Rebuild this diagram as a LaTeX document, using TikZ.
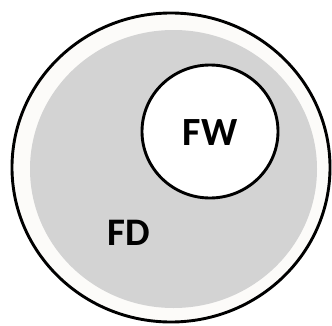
\documentclass[tikz,border=0pt]{standalone}
\usepackage{fontspec}
\newfontfamily\calfont{Carlito}
\usepackage{xcolor}
\definecolor{fdgray}{RGB}{211,211,211}
\definecolor{ringwhite}{RGB}{252,251,249}
\begin{document}
\begin{tikzpicture}[x=1pt,y=1pt]
	\useasboundingbox (0,0) rectangle (332,325);
	\draw[line width=2.9pt, fill=ringwhite] (171,157.5) ellipse (159 and 154.5);
	\fill[fdgray] (173.5,156) ellipse (143.5 and 139);
	\draw[line width=2.9pt, fill=white] (210,193.5) ellipse (68 and 66.5);
	\node[font=\calfont\bfseries\fontsize{40}{44}\selectfont] (fw) at (210,192) {FW};
	\node[font=\calfont\bfseries\fontsize{39}{44}\selectfont] (fd) at (128.5,92) {FD};
\end{tikzpicture}
\end{document}
